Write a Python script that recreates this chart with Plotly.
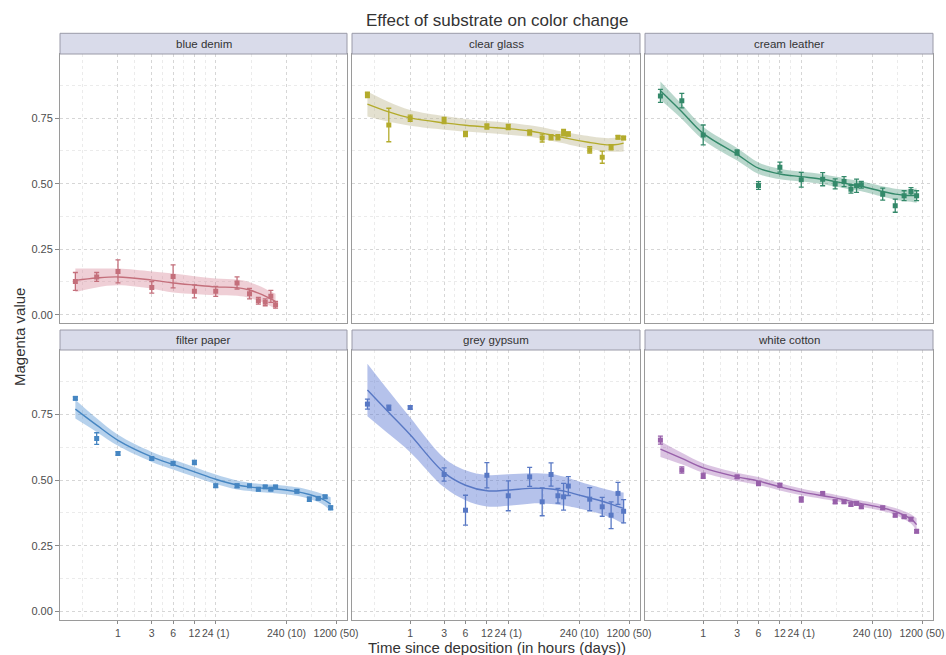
import plotly.graph_objects as go

# Sampling times (hours since deposition)
hours = [0.25, 0.5, 1, 3, 6, 12, 24, 48, 72, 96, 120, 144, 168, 336, 504, 672, 840, 1008]

substrates = ["blue denim", "clear glass", "cream leather",
              "filter paper", "grey gypsum", "white cotton"]

# Mean magenta value and error per sample
blue_denim_mean = [0.127, 0.144, 0.165, 0.104, 0.146, 0.089, 0.089, 0.121, 0.080, 0.053, 0.047, 0.070, 0.038]
blue_denim_err = [0.034, 0.017, 0.044, 0.022, 0.044, 0.025, 0.019, 0.023, 0.020, 0.013, 0.013, 0.023, 0.013]
clear_glass_mean = [0.839, 0.724, 0.750, 0.741, 0.690, 0.718, 0.716, 0.695, 0.674, 0.677, 0.677, 0.695, 0.690, 0.629, 0.601, 0.639, 0.677, 0.674]
clear_glass_err = [0.010, 0.064, 0.012, 0.012, 0.010, 0.010, 0.010, 0.010, 0.015, 0.010, 0.010, 0.012, 0.008, 0.012, 0.023, 0.010, 0.006, 0.006]
cream_leather_mean = [0.835, 0.817, 0.686, 0.619, 0.493, 0.563, 0.515, 0.517, 0.499, 0.508, 0.479, 0.492, 0.496, 0.460, 0.416, 0.454, 0.470, 0.454]
cream_leather_err = [0.025, 0.028, 0.038, 0.010, 0.015, 0.019, 0.028, 0.025, 0.019, 0.019, 0.015, 0.025, 0.013, 0.023, 0.025, 0.019, 0.015, 0.019]
filter_paper_mean = [0.811, 0.658, 0.601, 0.582, 0.563, 0.567, 0.478, 0.478, 0.478, 0.465, 0.474, 0.465, 0.474, 0.457, 0.427, 0.430, 0.436, 0.394]
filter_paper_err = [0.006, 0.022, 0.006, 0.005, 0.005, 0.008, 0.006, 0.007, 0.005, 0.006, 0.005, 0.005, 0.005, 0.006, 0.008, 0.005, 0.006, 0.007]
grey_gypsum_mean = [0.789, 0.775, 0.776, 0.521, 0.385, 0.518, 0.440, 0.512, 0.417, 0.521, 0.440, 0.436, 0.477, 0.427, 0.398, 0.366, 0.449, 0.381]
grey_gypsum_err = [0.019, 0.010, 0.006, 0.025, 0.057, 0.048, 0.057, 0.036, 0.053, 0.044, 0.028, 0.051, 0.036, 0.044, 0.036, 0.051, 0.042, 0.044]
white_cotton_mean = [0.652, 0.538, 0.516, 0.512, 0.487, 0.480, 0.426, 0.449, 0.417, 0.417, 0.407, 0.411, 0.398, 0.394, 0.366, 0.360, 0.351, 0.305]
white_cotton_err = [0.015, 0.012, 0.010, 0.006, 0.008, 0.007, 0.010, 0.005, 0.007, 0.006, 0.006, 0.006, 0.006, 0.006, 0.006, 0.006, 0.006, 0.006]

# Smoothed trend and half-width of its confidence band
blue_denim_fit = [0.131, 0.140, 0.144, 0.132, 0.121, 0.113, 0.106, 0.103, 0.094, 0.082, 0.071, 0.060, 0.050]
blue_denim_band = [0.045, 0.036, 0.032, 0.033, 0.036, 0.034, 0.032, 0.031, 0.030, 0.029, 0.028, 0.028, 0.030]
clear_glass_fit = [0.804, 0.774, 0.751, 0.732, 0.723, 0.716, 0.710, 0.701, 0.693, 0.686, 0.680, 0.676, 0.672, 0.657, 0.650, 0.648, 0.650, 0.655]
clear_glass_band = [0.048, 0.038, 0.030, 0.026, 0.024, 0.023, 0.023, 0.022, 0.022, 0.022, 0.022, 0.022, 0.022, 0.024, 0.025, 0.026, 0.028, 0.032]
cream_leather_fit = [0.855, 0.775, 0.692, 0.612, 0.559, 0.537, 0.527, 0.517, 0.508, 0.502, 0.497, 0.493, 0.490, 0.470, 0.460, 0.456, 0.455, 0.455]
cream_leather_band = [0.035, 0.028, 0.025, 0.024, 0.022, 0.020, 0.019, 0.019, 0.019, 0.019, 0.019, 0.019, 0.019, 0.020, 0.021, 0.022, 0.024, 0.028]
filter_paper_fit = [0.770, 0.709, 0.651, 0.588, 0.559, 0.531, 0.503, 0.481, 0.474, 0.470, 0.468, 0.467, 0.466, 0.456, 0.445, 0.434, 0.422, 0.408]
filter_paper_band = [0.036, 0.026, 0.021, 0.019, 0.019, 0.019, 0.018, 0.017, 0.016, 0.016, 0.016, 0.016, 0.016, 0.016, 0.017, 0.018, 0.021, 0.026]
grey_gypsum_fit = [0.843, 0.757, 0.672, 0.528, 0.480, 0.459, 0.462, 0.468, 0.468, 0.466, 0.462, 0.458, 0.454, 0.432, 0.419, 0.408, 0.399, 0.392]
grey_gypsum_band = [0.100, 0.082, 0.066, 0.056, 0.057, 0.060, 0.060, 0.058, 0.057, 0.057, 0.056, 0.055, 0.054, 0.050, 0.050, 0.052, 0.055, 0.060]
white_cotton_fit = [0.618, 0.582, 0.546, 0.512, 0.496, 0.474, 0.455, 0.440, 0.432, 0.425, 0.419, 0.414, 0.410, 0.394, 0.380, 0.366, 0.352, 0.330]
white_cotton_band = [0.030, 0.022, 0.018, 0.016, 0.015, 0.014, 0.013, 0.012, 0.012, 0.012, 0.012, 0.012, 0.012, 0.012, 0.013, 0.015, 0.018, 0.024]

# Axis ticks
x_tick_hours = [1, 3, 6, 12, 24, 240, 1200]
x_tick_labels = ["1", "3", "6", "12", "24 (1)", "240 (10)", "1200 (50)"]
y_tick_vals = [0, 0.25, 0.5, 0.75]
y_tick_labels = ["0.00", "0.25", "0.50", "0.75"]

line_colors = ["#c46f7b", "#b3ab2c", "#34896a", "#4686c2", "#5878c4", "#9860aa"]
band_colors = ["rgba(214,128,146,0.38)", "rgba(188,180,140,0.42)", "rgba(70,150,120,0.38)",
               "rgba(80,145,210,0.42)", "rgba(90,120,210,0.45)", "rgba(160,100,180,0.38)"]

means = [blue_denim_mean, clear_glass_mean, cream_leather_mean,
         filter_paper_mean, grey_gypsum_mean, white_cotton_mean]
errs = [blue_denim_err, clear_glass_err, cream_leather_err,
        filter_paper_err, grey_gypsum_err, white_cotton_err]
fits = [blue_denim_fit, clear_glass_fit, cream_leather_fit,
        filter_paper_fit, grey_gypsum_fit, white_cotton_fit]
bands = [blue_denim_band, clear_glass_band, cream_leather_band,
         filter_paper_band, grey_gypsum_band, white_cotton_band]

W, H = 946, 655
col_px = [(60, 347), (352, 640), (645, 933)]
row_px = [(54, 323.3), (350, 620)]        # plot area top/bottom in pixels
strip_px = [(33.3, 54), (330, 350)]

FONT = "Liberation Sans, Arial, sans-serif"
fig = go.Figure()

x_log_range = [-0.819, 3.234]
y_range = [-0.033, 0.995]
minor_x = [10 ** v for v in (-0.5, 0.239, 0.628, 0.929, 1.23, 1.88, 2.73)]
minor_y = [0.125, 0.375, 0.625, 0.875]

for i, name in enumerate(substrates):
    r, c = divmod(i, 3)
    sfx = "" if i == 0 else str(i + 1)
    xref, yref = "x" + sfx, "y" + sfx
    n = len(means[i])
    t = hours[:n]
    lo = [f - b for f, b in zip(fits[i], bands[i])]
    hi = [f + b for f, b in zip(fits[i], bands[i])]

    fig.add_trace(go.Scatter(x=t, y=lo, mode="lines", line=dict(width=0, shape="spline"),
                             hoverinfo="skip", showlegend=False, xaxis=xref, yaxis=yref))
    fig.add_trace(go.Scatter(x=t, y=hi, mode="lines", line=dict(width=0, shape="spline"),
                             fill="tonexty", fillcolor=band_colors[i],
                             hoverinfo="skip", showlegend=False, xaxis=xref, yaxis=yref))
    fig.add_trace(go.Scatter(x=t, y=fits[i], mode="lines",
                             line=dict(color=line_colors[i], width=1.4, shape="spline"),
                             showlegend=False, xaxis=xref, yaxis=yref))
    fig.add_trace(go.Scatter(x=t, y=means[i], mode="markers",
                             marker=dict(symbol="square", size=5, color=line_colors[i]),
                             error_y=dict(type="data", array=errs[i], color=line_colors[i],
                                          thickness=1.3, width=2.5),
                             showlegend=False, xaxis=xref, yaxis=yref))

    x0, x1 = col_px[c]
    y0, y1 = row_px[r]
    fig.update_layout({
        "xaxis" + sfx: dict(
            type="log", range=x_log_range, domain=[x0 / W, x1 / W], anchor=yref,
            tickmode="array", tickvals=x_tick_hours, ticktext=x_tick_labels,
            showticklabels=(r == 1), ticks="outside" if r == 1 else "", tickangle=0,
            ticklen=3, tickcolor="#8a8a8a", tickwidth=1,
            tickfont=dict(family=FONT, size=10.5, color="#4d4d4d"),
            showgrid=True, gridcolor="#d6d6d6", griddash="dot", gridwidth=1,
            minor=dict(tickmode="array", tickvals=minor_x, showgrid=True,
                       gridcolor="#ebebeb", griddash="dot", gridwidth=1),
            showline=True, mirror=True, linecolor="#9a9a9a", linewidth=1,
            zeroline=False, automargin=False, fixedrange=True),
        "yaxis" + sfx: dict(
            range=y_range, domain=[1 - y1 / H, 1 - y0 / H], anchor=xref,
            tickmode="array", tickvals=y_tick_vals, ticktext=y_tick_labels,
            showticklabels=(c == 0), ticks="outside" if c == 0 else "",
            ticklen=4, tickcolor="#8a8a8a", tickwidth=1,
            tickfont=dict(family=FONT, size=11, color="#4d4d4d"),
            showgrid=True, gridcolor="#d6d6d6", griddash="dot", gridwidth=1,
            minor=dict(tickmode="array", tickvals=minor_y, showgrid=True,
                       gridcolor="#ebebeb", griddash="dot", gridwidth=1),
            showline=True, mirror=True, linecolor="#9a9a9a", linewidth=1,
            zeroline=False, automargin=False, fixedrange=True),
    })

    # facet strip
    s0, s1 = strip_px[r]
    fig.add_shape(type="rect", xref="paper", yref="paper",
                  x0=x0 / W, x1=x1 / W, y0=1 - s1 / H, y1=1 - s0 / H,
                  fillcolor="#d9dbea", line=dict(color="#9a9aa8", width=1), layer="above")
    fig.add_annotation(x=(x0 + x1) / 2 / W, y=1 - (s0 + s1) / 2 / H, xref="paper", yref="paper",
                       text=name, showarrow=False, xanchor="center", yanchor="middle",
                       font=dict(family=FONT, size=11.5, color="#333333"))

fig.add_annotation(x=496.5 / W, y=1 - 20 / H, xref="paper", yref="paper",
                   text="Effect of substrate on color change", showarrow=False,
                   xanchor="center", yanchor="middle",
                   font=dict(family=FONT, size=17, color="#333333"))
fig.add_annotation(x=496.5 / W, y=1 - 647.5 / H, xref="paper", yref="paper",
                   text="Time since deposition (in hours (days))", showarrow=False,
                   xanchor="center", yanchor="middle",
                   font=dict(family=FONT, size=15, color="#333333"))
fig.add_annotation(x=19 / W, y=1 - 337 / H, xref="paper", yref="paper",
                   text="Magenta value", showarrow=False, textangle=-90,
                   xanchor="center", yanchor="middle",
                   font=dict(family=FONT, size=15, color="#333333"))

fig.update_layout(width=W, height=H, margin=dict(l=0, r=0, t=0, b=0),
                  paper_bgcolor="white", plot_bgcolor="white", showlegend=False)

fig.write_html("out.html")
